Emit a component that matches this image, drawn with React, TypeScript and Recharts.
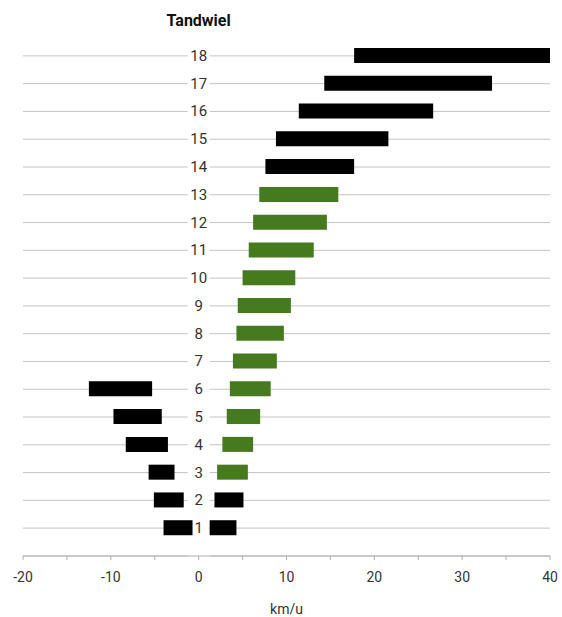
import React from 'react';
import { BarChart, Bar, XAxis, YAxis, CartesianGrid, Cell } from 'recharts';

// rows 1..18 (1 = bottom row)
const categories = ['1', '2', '3', '4', '5', '6', '7', '8', '9', '10', '11', '12', '13', '14', '15', '16', '17', '18'];
const posLow = [1.25, 1.8, 2.1, 2.7, 3.2, 3.55, 3.9, 4.3, 4.45, 5.0, 5.7, 6.2, 6.9, 7.6, 8.8, 11.4, 14.3, 17.7];
const posHigh = [4.3, 5.1, 5.6, 6.2, 7.0, 8.2, 8.9, 9.7, 10.5, 11.0, 13.1, 14.6, 15.9, 17.7, 21.6, 26.7, 33.4, 40];
const negLow = [-4.0, -5.1, -5.7, -8.3, -9.7, -12.5];
const negHigh = [-0.7, -1.7, -2.75, -3.5, -4.2, -5.3];
const blackRows = ['1', '2', '14', '15', '16', '17', '18'];
const xTicks = [-20, -15, -10, -5, 0, 5, 10, 15, 20, 25, 30, 35, 40];

const data = categories.map((c, i) => ({
  cat: c,
  pos: [posLow[i], posHigh[i]],
  neg: i < negLow.length ? [negLow[i], negHigh[i]] : null,
}));

const W = 562;
const H = 617;
const Y_W = 1;
const M = { top: 42, right: 12, bottom: 3, left: 22 };
const X_MIN = -20;
const X_MAX = 40;
const plotL = M.left + Y_W;
const plotR = W - M.right;
const zeroX = plotL + ((plotR - plotL) * (0 - X_MIN)) / (X_MAX - X_MIN);
const FONT = 'Roboto, sans-serif';
const GREEN = '#467a1f';
const GAP = 11;

// grid line with a gap around the row label on the zero line
const GridLine = (p: any) => {
  if (p.y1 < M.top + 4) return <g key={p.key} />;
  return (
    <g key={p.key}>
      <line x1={p.x1} x2={zeroX - GAP} y1={p.y1} y2={p.y2} stroke="#c4c4c4" />
      <line x1={zeroX + GAP} x2={p.x2} y1={p.y1} y2={p.y2} stroke="#c4c4c4" />
    </g>
  );
};

const CatTick = (props: any) => {
  const { y, payload } = props;
  return (
    <text x={zeroX} y={y} textAnchor="middle" dominantBaseline="central" fontSize={15} fill="#333" fontFamily={FONT}>
      {payload.value}
    </text>
  );
};

export default function App() {
  return (
    <div style={{ position: 'absolute', left: 0, top: 0, width: W, height: H, background: '#fff' }}>
      <div
        style={{
          position: 'absolute', left: zeroX - 60, top: 11, width: 120, textAlign: 'center',
          fontFamily: FONT, fontWeight: 'bold', fontSize: 16, color: '#111',
        }}
      >
        Tandwiel
      </div>
      <BarChart width={W} height={H} data={data} layout="vertical" margin={M} barSize={15} barGap={-15}>
        <CartesianGrid vertical={false} horizontal={(p: any) => <GridLine {...p} />} />
        <XAxis
          type="number"
          domain={[X_MIN, X_MAX]}
          ticks={xTicks}
          allowDataOverflow
          tickFormatter={(v: number) => (v % 10 === 0 ? String(v) : '')}
          tick={{ fontSize: 14, fill: '#333', fontFamily: FONT }}
          tickSize={4}
          tickMargin={12}
          stroke="#b0b0b0"
          height={58}
          label={{ value: 'km/u', position: 'insideBottom', offset: 0, fontSize: 14, fill: '#333', fontFamily: FONT }}
        />
        <YAxis
          type="category"
          dataKey="cat"
          reversed
          width={Y_W}
          axisLine={false}
          tickLine={false}
          interval={0}
          padding={{ top: 0, bottom: 14 }}
          tick={(p: any) => <CatTick {...p} />}
        />
        <Bar dataKey="neg" fill="#000" isAnimationActive={false} />
        <Bar dataKey="pos" isAnimationActive={false}>
          {data.map((d) => (
            <Cell key={d.cat} fill={blackRows.includes(d.cat) ? '#000' : GREEN} />
          ))}
        </Bar>
      </BarChart>
    </div>
  );
}
